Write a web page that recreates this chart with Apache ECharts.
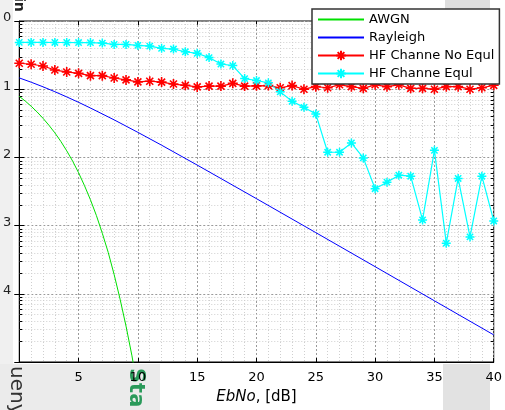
<!DOCTYPE html>
<html>
<head>
<meta charset="utf-8">
<script src="https://cdn.jsdelivr.net/npm/echarts@6/dist/echarts.min.js"></script>
<style>
  html, body { margin: 0; padding: 0; background: #fff; }
  #chart { width: 505px; height: 410px; }
</style>
</head>
<body>
<div id="chart"></div>
<script>
// EbNo sweep in dB
const ebno = [0, 1, 2, 3, 4, 5, 6, 7, 8, 9, 10, 11, 12, 13, 14, 15, 16, 17, 18, 19, 20,
  21, 22, 23, 24, 25, 26, 27, 28, 29, 30, 31, 32, 33, 34, 35, 36, 37, 38, 39, 40]

// AWGN curve
const awgnX = [0, 0.5, 1, 1.5, 2, 2.5, 3, 3.5, 4, 4.5, 5, 5.5, 6, 6.5, 7, 7.5, 8, 8.5, 9, 9.5, 10]
const awgnBer = [0.0786, 0.0671, 0.0563, 0.0464, 0.0375, 0.0296, 0.0229, 0.0172, 0.0125, 0.00882,
  0.00595, 0.00385, 0.00239, 0.00141, 0.000773, 0.000404, 0.000191, 0.0000834, 0.0000336, 0.0000123, 0.00000387]

// Rayleigh curve
const rayX = [0, 1, 2, 3, 4, 5, 6, 8, 10, 12, 15, 20, 25, 30, 35, 40]
const rayBer = [0.1464, 0.1267, 0.1085, 0.0919, 0.0771, 0.0642, 0.0530, 0.0355, 0.0233, 0.0151,
  0.00772, 0.00248, 0.000789, 0.00025, 0.000079, 0.000025]

// HF channel, no equalizer
const hfNoEq = [0.240, 0.232, 0.219, 0.191, 0.179, 0.171, 0.158, 0.158, 0.146, 0.137, 0.128,
  0.131, 0.127, 0.119, 0.114, 0.108, 0.111, 0.111, 0.122, 0.111, 0.112,
  0.113, 0.105, 0.113, 0.100, 0.109, 0.105, 0.116, 0.109, 0.103, 0.116,
  0.109, 0.116, 0.103, 0.103, 0.100, 0.109, 0.109, 0.100, 0.105, 0.114]

// HF channel, with equalizer
const hfEq = [0.485, 0.485, 0.485, 0.484, 0.484, 0.483, 0.482, 0.474, 0.454, 0.454, 0.439,
  0.429, 0.397, 0.388, 0.354, 0.336, 0.291, 0.234, 0.222, 0.143, 0.134,
  0.124, 0.0914, 0.0664, 0.0542, 0.0432, 0.0119, 0.0119, 0.0163, 0.00984, 0.00347,
  0.00433, 0.00548, 0.0053, 0.00121, 0.0127, 0.000552, 0.00491, 0.000682, 0.0053, 0.00117]

const xTicks = [0, 5, 10, 15, 20, 25, 30, 35, 40]

// minor log ticks 2..9 x 10^-k
const minorVals = []
for (let e = -5; e < 0; e++) {
  for (let m = 2; m <= 9; m++) minorVals.push(m * Math.pow(10, e))
}

const FONT = 'DejaVu Sans'
const GREEN = '#00e000'
const BLUE = '#0000ff'
const zip = (xs, ys) => xs.map((x, i) => [x, ys[i]])

const star = 'path://M5 0L5 10M0 5L10 5M1.5 1.5L8.5 8.5M8.5 1.5L1.5 8.5'

const chart = echarts.init(document.getElementById('chart'))

const option = {
  backgroundColor: '#fff',
  animation: false,
  grid: {
    left: 14, right: 7, top: 21, bottom: 47,
    show: true, borderColor: '#000', borderWidth: 1, backgroundColor: '#fff'
  },
  legend: {
    orient: 'vertical',
    left: 312, top: 9,
    padding: [4, 5, 4, 5],
    itemWidth: 46, itemHeight: 12, itemGap: 5,
    backgroundColor: '#fff',
    borderColor: '#333', borderWidth: 1.5,
    textStyle: { fontFamily: FONT, fontSize: 13, color: '#000' },
    data: [
      // plain lines: hide the legend marker, keep the line
      { name: 'AWGN', itemStyle: { opacity: 0 } },
      { name: 'Rayleigh', itemStyle: { opacity: 0 } },
      'HF Channe No Equl',
      'HF Channe Equl'
    ]
  },
  xAxis: [{
    type: 'value', min: 0, max: 40, interval: 5,
    name: '{i|EbNo}, [dB]',
    nameLocation: 'middle', nameGap: 28,
    nameTextStyle: {
      fontFamily: FONT, fontSize: 15, color: '#000',
      rich: { i: { fontFamily: FONT, fontSize: 15, fontStyle: 'italic', color: '#000' } }
    },
    axisLine: { lineStyle: { color: '#000' } },
    axisTick: { inside: true, length: 4, lineStyle: { color: '#000' } },
    axisLabel: {
      margin: 9, fontFamily: FONT, fontSize: 13, color: '#000',
      formatter: v => (v === 0 || xTicks.indexOf(v) < 0) ? '' : String(v)
    },
    splitLine: { show: true, lineStyle: { color: '#9a9a9a', type: [2, 2] } },
    minorTick: { show: false, splitNumber: 5 },
    minorSplitLine: { show: true, lineStyle: { color: '#cfcfcf', type: [1, 2] } }
  }, {
    type: 'value', min: 0, max: 40, interval: 5, position: 'top',
    axisLine: { show: false },
    axisTick: { inside: true, length: 4, lineStyle: { color: '#000' } },
    axisLabel: { show: false },
    splitLine: { show: false }
  }],
  yAxis: [{
    type: 'log', logBase: 10, min: 0.00001, max: 1,
    axisLine: { show: true, lineStyle: { color: '#000' } },
    axisTick: { inside: true, length: 5, lineStyle: { color: '#000' } },
    axisLabel: {
      margin: 8, fontFamily: FONT, fontSize: 13, color: '#222',
      verticalAlign: 'bottom', lineHeight: 6,
      formatter: v => {
        const k = Math.round(-Math.log10(v))
        return k >= 5 ? '' : String(k)
      }
    },
    splitLine: { show: true, lineStyle: { color: '#9a9a9a', type: [2, 2] } }
  }, {
    type: 'log', logBase: 10, min: 0.00001, max: 1, position: 'right',
    axisLine: { show: false },
    axisTick: { inside: true, length: 5, lineStyle: { color: '#000' } },
    axisLabel: { show: false },
    splitLine: { show: false }
  }],
  series: [
    {
      // minor log grid + minor ticks
      type: 'custom',
      name: 'minor',
      silent: true,
      z: 1,
      data: minorVals.map(v => [0, v]),
      renderItem: (params, api) => {
        const cs = params.coordSys
        const y = Math.round(api.coord([0, api.value(1)])[1]) + 0.5
        return {
          type: 'group',
          children: [
            { type: 'line', shape: { x1: cs.x, y1: y, x2: cs.x + cs.width, y2: y },
              style: { stroke: '#cfcfcf', lineWidth: 1, lineDash: [1, 2] } },
            { type: 'line', shape: { x1: cs.x, y1: y, x2: cs.x + 3, y2: y },
              style: { stroke: '#000', lineWidth: 1 } },
            { type: 'line', shape: { x1: cs.x + cs.width - 3, y1: y, x2: cs.x + cs.width, y2: y },
              style: { stroke: '#000', lineWidth: 1 } }
          ]
        }
      }
    },
    {
      name: 'AWGN', type: 'line', data: zip(awgnX, awgnBer),
      symbol: 'none', color: GREEN,
      lineStyle: { width: 1, color: GREEN }
    },
    {
      name: 'Rayleigh', type: 'line', data: zip(rayX, rayBer),
      symbol: 'none', color: BLUE,
      lineStyle: { width: 1, color: BLUE }
    },
    {
      name: 'HF Channe No Equl', type: 'line', data: zip(ebno, hfNoEq),
      symbol: star, symbolSize: 10, color: '#ff0000',
      lineStyle: { width: 1.2, color: '#ff0000' },
      itemStyle: { color: '#ff0000', borderColor: '#ff0000', borderWidth: 1.6 }
    },
    {
      name: 'HF Channe Equl', type: 'line', data: zip(ebno, hfEq),
      symbol: star, symbolSize: 9, color: '#00ffff',
      lineStyle: { width: 1.2, color: '#00ffff' },
      itemStyle: { color: '#00ffff', borderColor: '#00ffff', borderWidth: 1.5 }
    }
  ],
  graphic: [
    // screenshot surroundings
    { type: 'rect', z: -10, shape: { x: 0, y: 0, width: 13, height: 410 }, style: { fill: '#f0f0f0' } },
    { type: 'rect', z: -10, shape: { x: 0, y: 364, width: 160, height: 46 }, style: { fill: '#ebebeb' } },
    { type: 'rect', z: -10, shape: { x: 443, y: 364, width: 47, height: 46 }, style: { fill: '#e2e2e2' } },
    { type: 'rect', z: -10, shape: { x: 445, y: 0, width: 45, height: 10 }, style: { fill: '#dedede' } },
    {
      type: 'text', z: -5, x: 26, y: 366, rotation: -Math.PI / 2,
      style: { text: 'ueny', fill: '#333', font: '20px "DejaVu Sans"' }
    },
    {
      type: 'text', z: -5, x: 146, y: 368, rotation: -Math.PI / 2,
      style: { text: 'Sta', fill: '#2a9a5a', font: 'bold 21px "DejaVu Sans"' }
    },
    {
      type: 'text', z: -5, x: 26, y: -3, rotation: -Math.PI / 2,
      style: { text: 'in', fill: '#222', font: 'bold 14px "DejaVu Sans"' }
    }
  ]
}

chart.setOption(option)
</script>
</body>
</html>
